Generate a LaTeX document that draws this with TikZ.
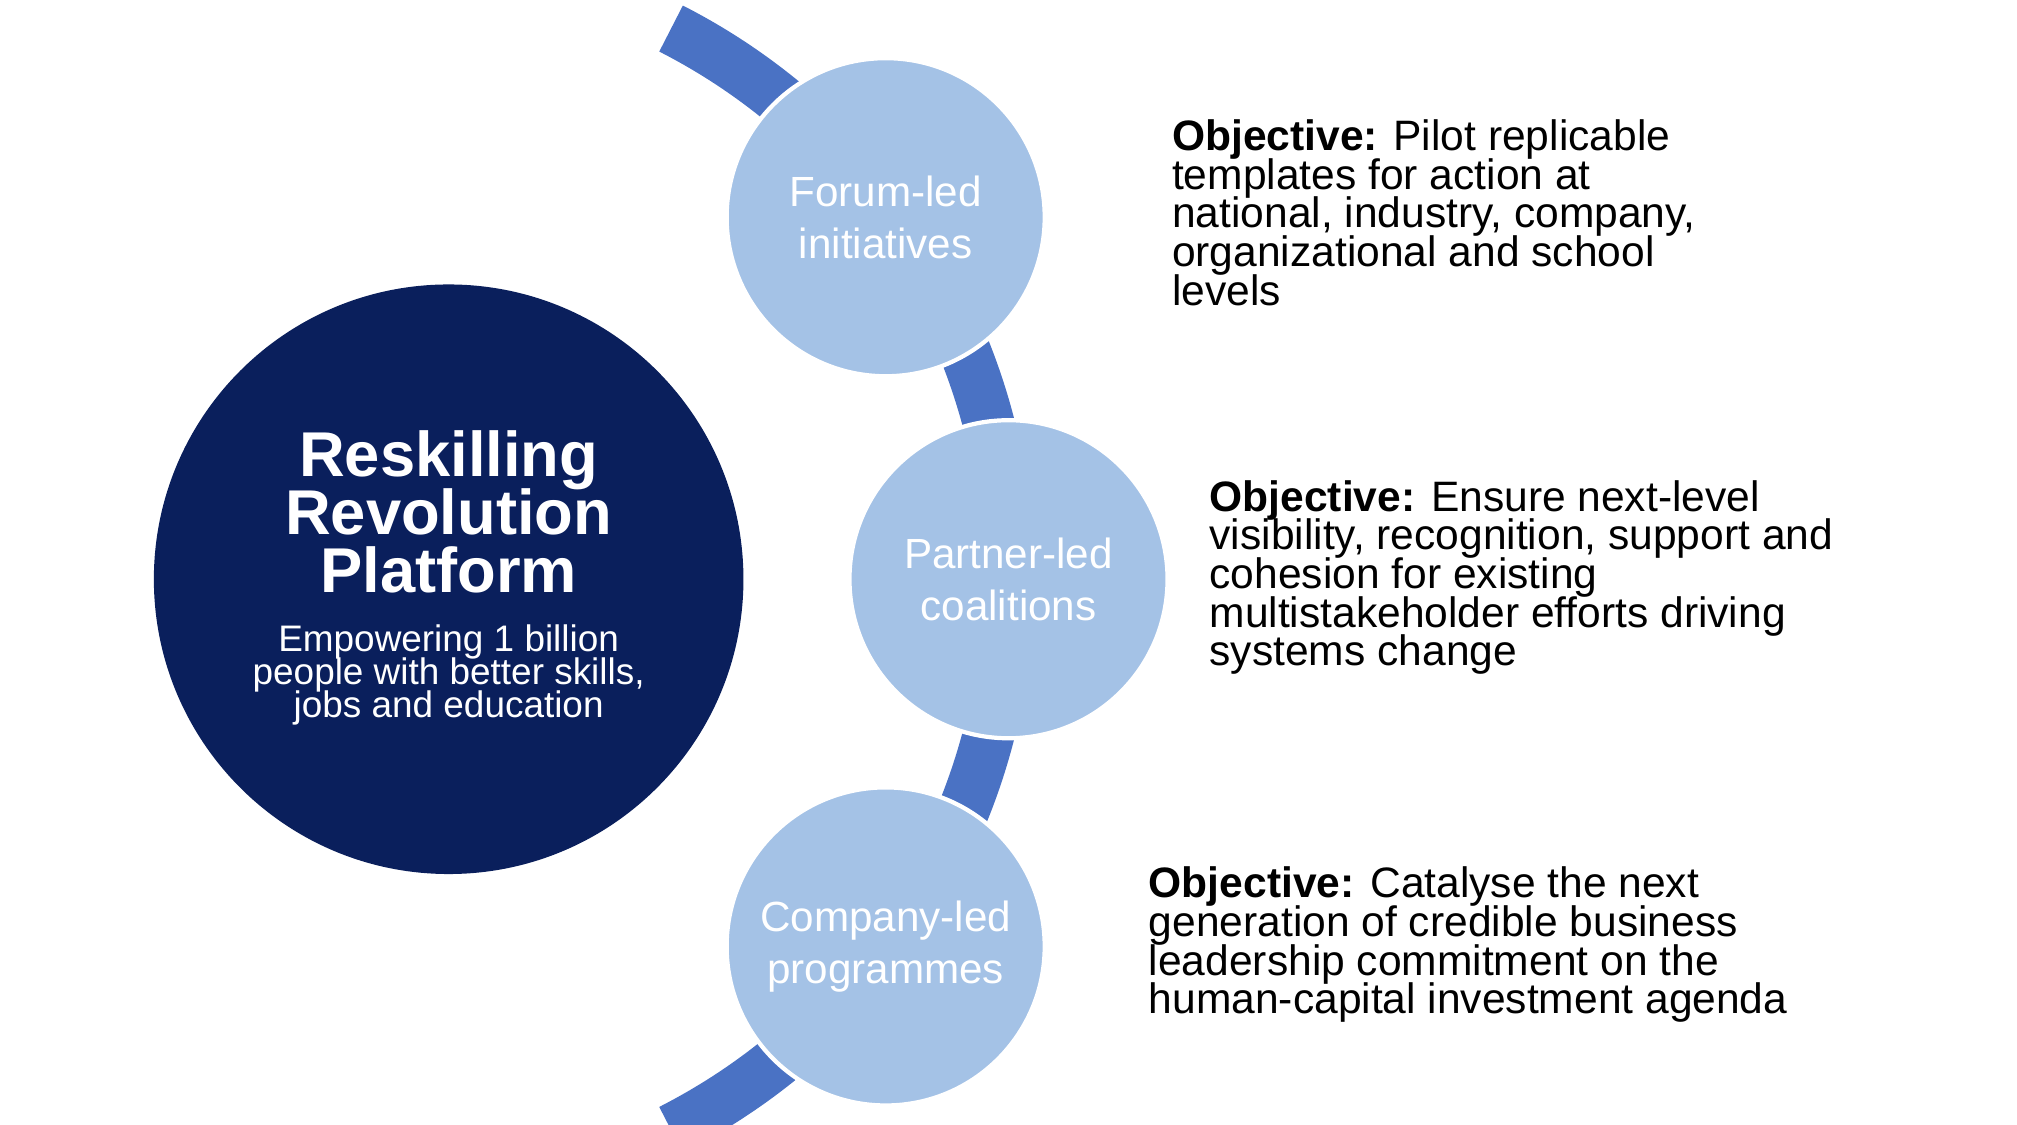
\documentclass[tikz,border=0pt]{standalone}
\usepackage{fontspec}
\setmainfont{Liberation Sans}
\definecolor{navy}{HTML}{0A1F5C}
\definecolor{band}{HTML}{4A72C4}
\definecolor{pale}{HTML}{A4C2E6}
\lineskiplimit=-20pt
\begin{document}
\begin{tikzpicture}[
        x=0.01293cm, y=-0.01293cm,
        font=\sffamily
    ]
    \tikzset{
        hubnode/.style = {circle, fill=navy, minimum size=456*0.01293cm, inner sep=0pt, align=center, text=white},
        stepnode/.style = {circle, fill=pale, draw=white, line width=1.2pt, minimum size=246*0.01293cm, align=center, text=white, font=\fontsize{12}{14.7}\selectfont},
        objtext/.style = {anchor=north west, align=left, inner sep=0pt, font=\fontsize{12.1}{11}\selectfont},
    }
    \useasboundingbox (0,0) rectangle (1560,870);
    \begin{scope}
    \clip (0,0) rectangle (1560,870);
    \draw[band, line width=40*0.01293cm] ([shift={(-63:478 and -478)}]302,448) arc[start angle=-63, end angle=63, x radius=478, y radius=-478];
    \end{scope}
    \fill[white] (0,0) rectangle (121,870);
    %
    \node[hubnode] at (347,448) (hub) {};
    \node[align=center, text=white, font=\bfseries\fontsize{18}{16.5}\selectfont] at (347,396) (title) {Reskilling\\Revolution\\Platform};
    \node[align=center, text=white, font=\fontsize{10.5}{9.5}\selectfont] at (347,522) (sub) {Empowering 1 billion\\people with better skills,\\jobs and education};
    %
    \node[stepnode] at (685,168) (forum) {Forum-led\\initiatives};
    \node[stepnode] at (780,448) (partner) {Partner-led\\coalitions};
    \node[stepnode] at (685,732) (company) {Company-led\\programmes};
    %
    \node[objtext] at (906,92) (objf) {\textbf{Objective:} Pilot replicable\\templates for action at\\national, industry, company,\\organizational and school\\levels};
    \node[objtext] at (935,371) (objp) {\textbf{Objective:} Ensure next-level\\visibility, recognition, support and\\cohesion for existing\\multistakeholder efforts driving\\systems change};
    \node[objtext] at (888,670) (objc) {\textbf{Objective:} Catalyse the next\\generation of credible business\\leadership commitment on the\\human-capital investment agenda};
\end{tikzpicture}
\end{document}
